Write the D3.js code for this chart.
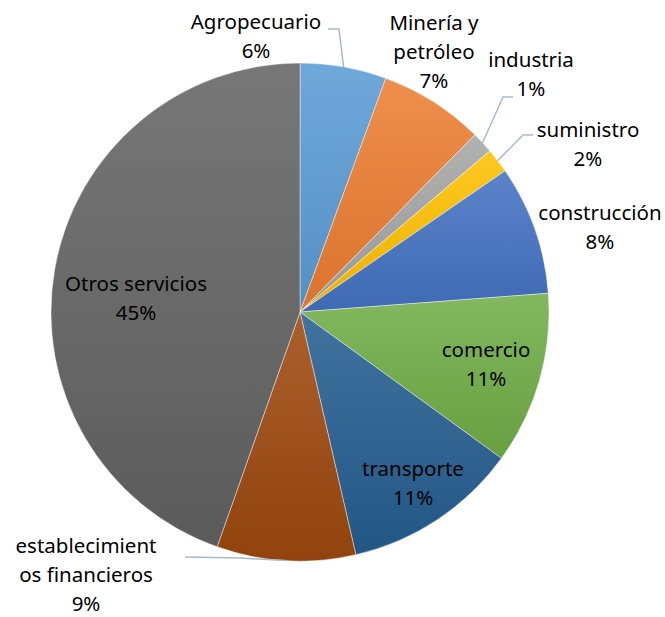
<!DOCTYPE html>
<html><head><meta charset="utf-8">
<script src="https://cdn.jsdelivr.net/npm/d3@7"></script>
<style>body{margin:0;background:#fff}svg{display:block}</style>
</head><body>
<svg id="c" width="665" height="617"></svg>
<script>
// Data
const sectors = ["Agropecuario", "Minería y petróleo", "industria", "suministro", "construcción", "comercio", "transporte", "establecimientos financieros", "Otros servicios"];
const shares = [5.6, 6.8, 1.4, 1.6, 8.4, 11.2, 11.4, 9.0, 44.6];
const labelLines = [["Agropecuario"], ["Minería y", "petróleo"], ["industria"], ["suministro"], ["construcción"], ["comercio"], ["transporte"], ["establecimient", "os financieros"], ["Otros servicios"]];
const colors = ["#5B9BD5", "#ED7D31", "#A5A5A5", "#FFC000", "#4472C4", "#70AD47", "#255E91", "#9E480E", "#636363"];

// Layout (label block position relative to pie centre; first baseline)
const labelPos = [[-44,-283],[134,-282],[231,-245],[288,-175],[300,-92],[186,45],[113,164],[-214,241],[-164,-21]];
const leaders = {0:[[39,-283],[28,-283]], 2:[[203,-215],[213,-215]], 3:[[223,-177],[233,-177]], 7:[[-60,246],[-115,245]]};

const W = 665, H = 617, cx = 300, cy = 312, R = 249;
const svg = d3.select("#c");
const defs = svg.append("defs");
colors.forEach((c, i) => {
  const g = defs.append("linearGradient").attr("id", "g" + i).attr("x1", 0).attr("y1", 0).attr("x2", 0).attr("y2", 1);
  g.append("stop").attr("offset", "0%").attr("stop-color", d3.interpolateRgb(c, "#fff")(0.13));
  g.append("stop").attr("offset", "100%").attr("stop-color", d3.interpolateRgb(c, "#000")(0.08));
});

const pie = d3.pie().sort(null).value(d => d)(shares);
const arc = d3.arc().innerRadius(0).outerRadius(R);
const gp = svg.append("g").attr("transform", `translate(${cx},${cy})`);
gp.selectAll("path.s").data(pie).join("path").attr("class", "s")
  .attr("d", arc).attr("fill", (d, i) => `url(#g${i})`)
  .attr("stroke", "#fff").attr("stroke-width", 0.7).attr("stroke-opacity", 0.6);

// leader lines
Object.keys(leaders).forEach(k => {
  const d = pie[k];
  const a = (d.startAngle + d.endAngle) / 2;
  const p0 = [R * Math.sin(a), -R * Math.cos(a)];
  const pts = [p0].concat(leaders[k]);
  gp.append("path").attr("d", d3.line()(pts)).attr("fill", "none")
    .attr("stroke", "#A9BACB").attr("stroke-width", 1.5);
});

const total = d3.sum(shares);
const lab = gp.selectAll("text.l").data(pie).join("text").attr("class", "l")
  .attr("text-anchor", "middle").attr("font-family", "'Noto Sans', sans-serif")
  .attr("font-size", 20.5).attr("fill", "#000");
lab.each(function(d, i) {
  const t = d3.select(this);
  const lines = labelLines[i].concat([Math.round(d.value / total * 100) + "%"]);
  lines.forEach((s, j) => {
    t.append("tspan").attr("x", labelPos[i][0]).attr("y", labelPos[i][1] + j * 29).text(s);
  });
});
</script>
</body></html>
